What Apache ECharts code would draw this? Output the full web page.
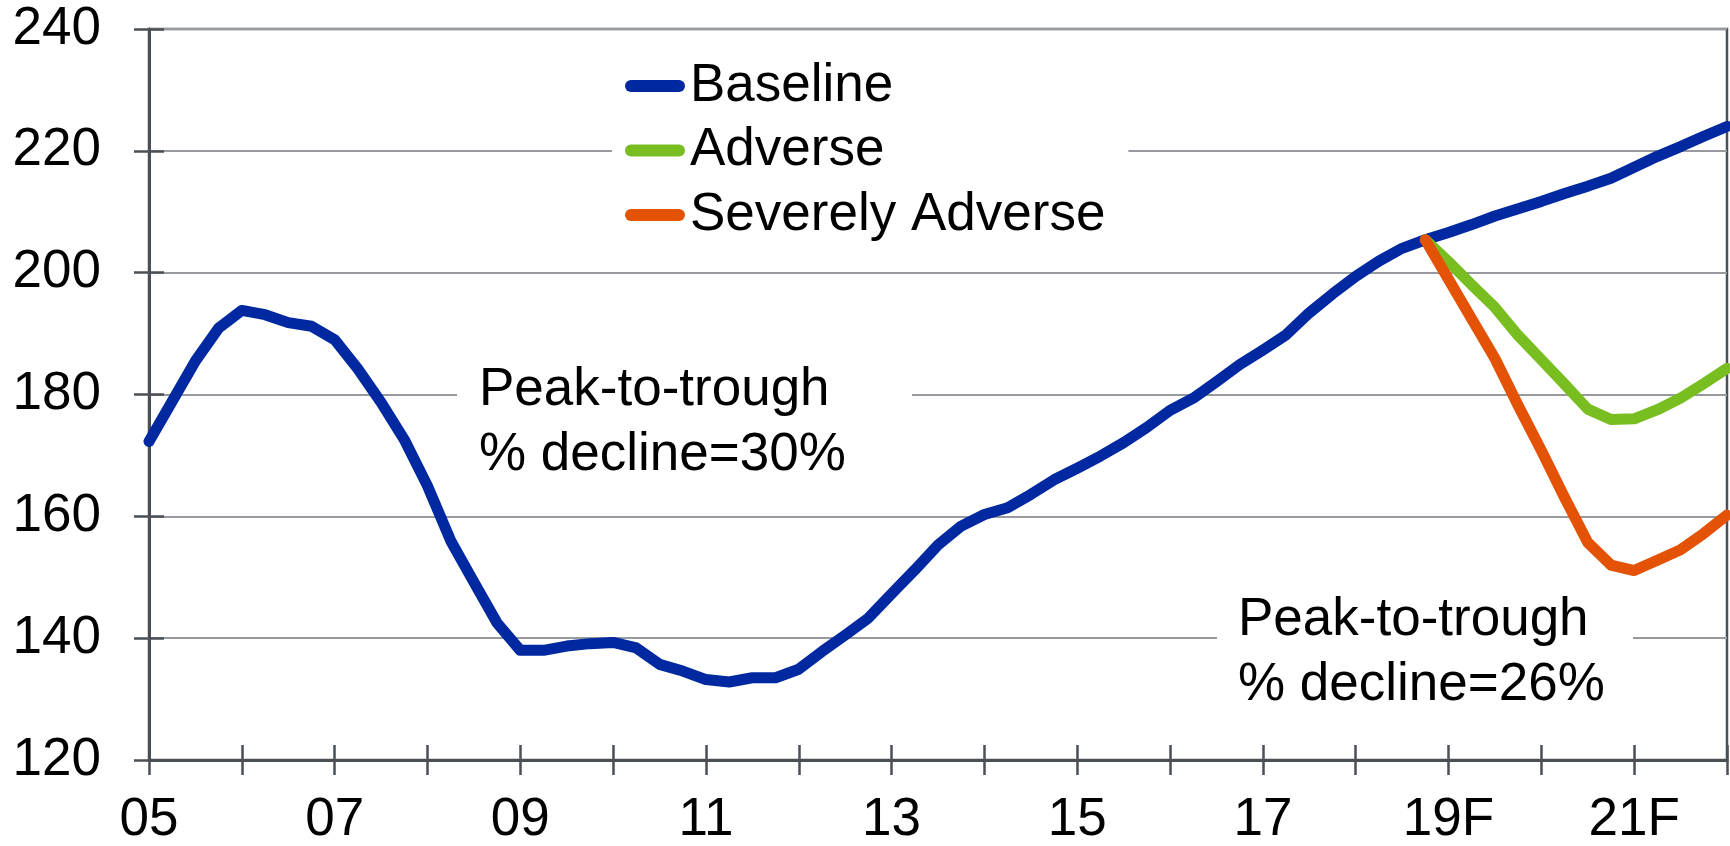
<!DOCTYPE html>
<html>
<head>
<meta charset="utf-8">
<title>Baseline / Adverse / Severely Adverse</title>
<script src="https://cdn.jsdelivr.net/npm/echarts/dist/echarts.min.js"></script>
<style>
  html, body { margin: 0; padding: 0; background: #fff; }
  #main { width: 1730px; height: 846px; }
</style>
</head>
<body>
<div id="main"></div>
<script>
// year labels on the axis, data is quarterly (05 Q1 .. 22F Q1)
var years = ['05', '06', '07', '08', '09', '10', '11', '12', '13', '14', '15', '16', '17', '18', '19F', '20F', '21F', '22F'];

var baseline = [
  172.3, 178.9, 185.5, 190.9,
  193.8, 193.1, 191.8, 191.2,
  189.0, 184.2, 178.7, 172.6,
  165.0, 156.0, 149.2, 142.5,
  138.0, 138.0, 138.7, 139.1,
  139.3, 138.4, 135.7, 134.6,
  133.2, 132.8, 133.5, 133.5,
  134.9, 137.8, 140.5, 143.3,
  147.3, 151.2, 155.3, 158.4,
  160.3, 161.4, 163.6, 166.0,
  167.9, 169.9, 172.1, 174.6,
  177.4, 179.4, 182.1, 184.9,
  187.3, 189.8, 193.4, 196.5,
  199.4, 201.9, 204.0, 205.4,
  206.6, 207.9, 209.3, 210.5,
  211.7, 213.0, 214.2, 215.5,
  217.3, 219.1, 220.7, 222.4,
  224.0
];

// scenarios branch off the baseline at 18 Q4
var scenarioStart = 55;
var adverse = [205.4, 201.8, 198.0, 194.3, 189.7, 185.7, 181.7, 177.6, 175.9, 176.0, 177.5, 179.4, 181.8, 184.3];
var severelyAdverse = [205.4, 198.9, 192.4, 185.9, 178.2, 170.8, 163.1, 155.7, 152.0, 151.1, 152.8, 154.5, 157.2, 160.2];

var yTicks = { min: 120, max: 240, interval: 20 };

// quarter categories
var categories = [];
for (var i = 0; i < baseline.length; i++) {
  categories.push(years[Math.floor(i / 4)] + ' Q' + (i % 4 + 1));
}

function pad(values) {
  var out = [];
  for (var i = 0; i < scenarioStart; i++) out.push(null);
  return out.concat(values);
}

var FONT = '"Liberation Sans", Arial, sans-serif';
var FS = 53;
var DARK = '#4b5057';
var GRID = '#979b9f';
var LW = 11;

var myChart = echarts.init(document.getElementById('main'));

var pill = 'path://M6,0 L54,0 A6,6 0 0 1 54,12 L6,12 A6,6 0 0 1 6,0 Z';

function lineSeries(name, data, color, z) {
  return {
    name: name, type: 'line', data: data,
    symbol: 'none', z: z,
    itemStyle: { color: color },
    lineStyle: { color: color, width: LW, join: 'round', cap: 'round' }
  };
}

myChart.setOption({
  backgroundColor: '#fff',
  animation: false,
  grid: {
    left: 149, right: 3, top: 29, bottom: 86,
    show: true, borderColor: DARK, borderWidth: 2.5,
    outerBoundsMode: 'none'
  },
  legend: {
    orient: 'vertical',
    left: 612, top: 52,
    padding: [6, 23, 6, 13],
    backgroundColor: '#fff',
    itemWidth: 60, itemHeight: 12, itemGap: 8.5,
    icon: pill,
    textStyle: { fontSize: FS, fontFamily: FONT, color: '#000', lineHeight: 56 },
    data: ['Baseline', 'Adverse', 'Severely Adverse']
  },
  xAxis: [
    {
      type: 'category',
      data: categories,
      boundaryGap: false,
      axisLine: { lineStyle: { color: DARK, width: 3 } },
      axisTick: { interval: 3, length: 15, lineStyle: { color: DARK, width: 2.5 } },
      axisLabel: {
        interval: 7, margin: 34,
        fontSize: FS, fontFamily: FONT, color: '#000',
        formatter: function (v) { return v.split(' ')[0]; }
      },
      splitLine: { show: false }
    },
    {
      // inner half of the crossing ticks
      type: 'category',
      data: categories,
      boundaryGap: false,
      position: 'bottom',
      axisLine: { show: false },
      axisTick: { inside: true, interval: 3, length: 15, lineStyle: { color: DARK, width: 2.5 } },
      axisLabel: { show: false },
      splitLine: { show: false }
    }
  ],
  yAxis: [
    {
      type: 'value',
      min: yTicks.min, max: yTicks.max, interval: yTicks.interval,
      axisLine: { show: true, lineStyle: { color: DARK, width: 3 } },
      axisTick: { show: true, length: 15, lineStyle: { color: DARK, width: 2.5 } },
      axisLabel: { margin: 48, fontSize: FS, fontFamily: FONT, color: '#000' },
      splitLine: { show: true, lineStyle: { color: GRID, width: 2 } }
    },
    {
      type: 'value',
      position: 'left',
      min: yTicks.min, max: yTicks.max, interval: yTicks.interval,
      axisLine: { show: false },
      axisTick: { show: true, inside: true, length: 15, lineStyle: { color: DARK, width: 2.5 } },
      axisLabel: { show: false },
      splitLine: { show: false }
    }
  ],
  series: [
    lineSeries('Baseline', baseline, '#0028a0', 3),
    lineSeries('Adverse', pad(adverse), '#78be20', 4),
    lineSeries('Severely Adverse', pad(severelyAdverse), '#e35205', 5)
  ],
  graphic: [
    // text boxes with white fill, they cut the gridlines like in the original
    { type: 'rect', z: 50, shape: { x: 457, y: 355, width: 455, height: 132 }, style: { fill: '#fff' } },
    {
      type: 'text', z: 51, x: 479, y: 358,
      style: { text: 'Peak-to-trough\n% decline=30%', fontSize: FS, fontFamily: FONT, fill: '#000', lineHeight: 65 }
    },
    { type: 'rect', z: 50, shape: { x: 1217, y: 585, width: 416, height: 132 }, style: { fill: '#fff' } },
    {
      type: 'text', z: 51, x: 1238, y: 588,
      style: { text: 'Peak-to-trough\n% decline=26%', fontSize: FS, fontFamily: FONT, fill: '#000', lineHeight: 65 }
    }
  ]
});
</script>
</body>
</html>
